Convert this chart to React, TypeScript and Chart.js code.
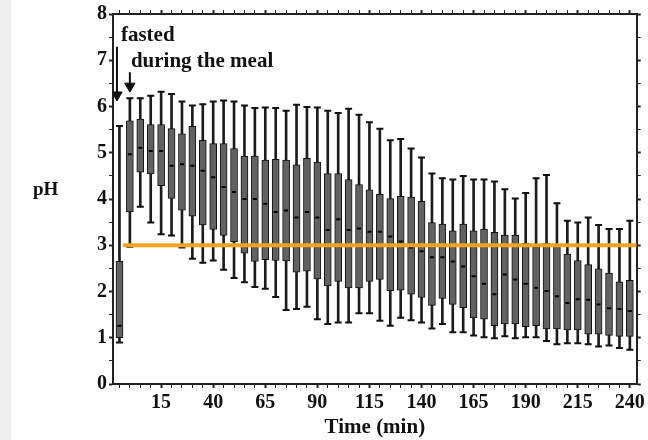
import React, { useEffect, useRef } from 'react';
import { Chart, registerables } from 'chart.js';

Chart.register(...registerables);

// ---- data ----
const times = [-5, 0, 5, 10, 15, 20, 25, 30, 35, 40, 45, 50, 55, 60, 65, 70, 75, 80, 85, 90, 95, 100, 105, 110, 115, 120, 125, 130, 135, 140, 145, 150, 155, 160, 165, 170, 175, 180, 185, 190, 195, 200, 205, 210, 215, 220, 225, 230, 235, 240];

const maxs = [5.58, 6.18, 6.18, 6.23, 6.32, 6.27, 6.11, 6.02, 6.05, 6.11, 6.13, 6.11, 6.02, 5.97, 5.98, 5.97, 5.91, 6.04, 5.99, 5.98, 5.91, 5.86, 5.95, 5.82, 5.66, 5.52, 5.27, 5.3, 5.09, 4.9, 4.55, 4.45, 4.42, 4.5, 4.42, 4.42, 4.38, 4.21, 4.01, 4.13, 4.45, 4.52, 3.91, 3.53, 3.49, 3.6, 3.44, 3.35, 3.35, 3.53];

const q3s = [2.65, 5.69, 5.73, 5.61, 5.61, 5.52, 5.41, 5.57, 5.27, 5.2, 5.2, 5.09, 4.93, 4.93, 4.84, 4.86, 4.84, 4.74, 4.88, 4.8, 4.55, 4.55, 4.42, 4.31, 4.2, 4.1, 4.01, 4.06, 4.04, 3.95, 3.49, 3.46, 3.31, 3.46, 3.31, 3.35, 3.28, 3.22, 3.22, 3.04, 2.97, 3.04, 3.0, 2.81, 2.67, 2.58, 2.49, 2.4, 2.21, 2.24];

const medians = [1.26, 4.97, 5.11, 5.04, 5.04, 4.72, 4.75, 4.72, 4.61, 4.47, 4.26, 4.15, 4.0, 4.0, 3.9, 3.72, 3.75, 3.6, 3.72, 3.6, 3.33, 3.56, 3.33, 3.36, 3.29, 3.29, 3.19, 3.08, 2.95, 2.87, 2.74, 2.74, 2.65, 2.54, 2.33, 2.17, 1.94, 2.37, 2.26, 2.17, 2.08, 2.01, 1.9, 1.75, 1.83, 1.82, 1.72, 1.64, 1.62, 1.58];

const q1s = [1.0, 3.72, 4.58, 4.54, 4.29, 4.01, 3.76, 3.63, 3.44, 3.34, 3.21, 3.08, 2.83, 2.65, 2.69, 2.67, 2.66, 2.42, 2.44, 2.27, 2.12, 2.22, 2.08, 2.08, 2.22, 2.26, 2.02, 2.03, 1.94, 1.87, 1.7, 1.85, 1.72, 1.65, 1.43, 1.4, 1.26, 1.3, 1.3, 1.24, 1.26, 1.19, 1.19, 1.17, 1.17, 1.08, 1.08, 1.05, 1.03, 1.03];

const mins = [0.9, 2.97, 3.83, 3.49, 3.24, 3.21, 2.95, 2.71, 2.62, 2.67, 2.47, 2.29, 2.2, 2.1, 2.06, 1.88, 1.6, 1.62, 1.67, 1.4, 1.3, 1.33, 1.33, 1.53, 1.53, 1.37, 1.26, 1.43, 1.38, 1.33, 1.2, 1.3, 1.12, 1.12, 1.05, 1.01, 0.99, 1.03, 0.99, 1.01, 1.01, 0.93, 0.86, 0.88, 0.88, 0.86, 0.81, 0.83, 0.78, 0.74];

const xLabelTicks = [15, 40, 65, 90, 115, 140, 165, 190, 215, 240];
const yLabelTicks = [0, 1, 2, 3, 4, 5, 6, 7, 8];

const thresholdPH = 3;
const thresholdStart = -3.3;
const thresholdEnd = 243.3;

// annotations: text, time, pH (baseline)
const noteTexts = ['fasted', 'during the meal'];
const noteTimes = [-4.3, 0.5];
const notePH = [7.42, 6.85];

// arrows: time, shaft top, shaft bottom, head centre
const arrowTimes = [-6.2, 0];
const arrowTops = [7.29, 6.74];
const arrowBottoms = [6.3, 6.46];
const arrowHeads = [6.25, 6.44];

const X_MIN = -8.1;
const X_MAX = 243.3;

const SERIF = '"Liberation Serif", "Times New Roman", Times, serif';
const INK = '#111111';

export default function App() {
  const ref = useRef<HTMLCanvasElement>(null);

  useEffect(() => {
    document.body.style.margin = '0';
    const canvas = ref.current;
    if (!canvas) return;

    const minorX: number[] = [];
    for (let v = -5; v <= 240; v += 5) minorX.push(v);
    const minorY: number[] = [];
    for (let v = 0; v <= 8; v += 0.5) minorY.push(v);

    const isMajorX = (v: number) => xLabelTicks.includes(v);
    const isMajorY = (v: number) => yLabelTicks.includes(v);

    const notesPlugin = {
      id: 'notes',
      afterDatasetsDraw(chart: any) {
        const { ctx, scales } = chart;
        const x = scales.x;
        const y = scales.y;
        ctx.save();
        ctx.fillStyle = INK;
        ctx.font = `bold 21px ${SERIF}`;
        ctx.textAlign = 'left';
        ctx.textBaseline = 'alphabetic';
        noteTexts.forEach((t, i) => {
          ctx.fillText(t, x.getPixelForValue(noteTimes[i]), y.getPixelForValue(notePH[i]));
        });
        ctx.font = `bold 19px ${SERIF}`;
        ctx.fillText('pH', chart.chartArea.left - 80, y.getPixelForValue(4.09));
        ctx.restore();
      },
    };

    const font = { family: SERIF, size: 20, weight: 'bold' as const };

    const xScaleBase = {
      type: 'linear' as const,
      min: X_MIN,
      max: X_MAX,
      offset: false,
      afterBuildTicks: (s: any) => {
        s.ticks = minorX.map((v) => ({ value: v }));
      },
      grid: {
        offset: false,
        drawOnChartArea: false,
        drawTicks: true,
        tickLength: 4,
        tickColor: '#222',
        tickWidth: (c: any) => (c.tick && isMajorX(c.tick.value) ? 2 : 1),
      },
      border: { display: true, color: '#222', width: 2 },
    };

    const yScaleBase = {
      type: 'linear' as const,
      min: 0,
      max: 8,
      afterBuildTicks: (s: any) => {
        s.ticks = minorY.map((v) => ({ value: v }));
      },
      grid: {
        drawOnChartArea: false,
        drawTicks: true,
        tickLength: 4,
        tickColor: '#222',
        tickWidth: (c: any) => (c.tick && isMajorY(c.tick.value) ? 2 : 1),
      },
      border: { display: true, color: '#222', width: 2 },
    };

    const chart = new Chart(canvas, {
      type: 'bar',
      data: {
        datasets: [
          {
            type: 'line',
            label: 'pH 3',
            data: [
              { x: thresholdStart, y: thresholdPH },
              { x: thresholdEnd, y: thresholdPH },
            ],
            borderColor: '#f6a31c',
            borderWidth: 4,
            pointRadius: 0,
            order: 0,
          },
          {
            type: 'bar',
            label: 'range',
            data: times.map((t, i) => ({ x: t, y: [mins[i], maxs[i]] })) as any,
            backgroundColor: '#1c1c1c',
            barThickness: 2,
            grouped: false,
            order: 6,
          },
          {
            type: 'bar',
            label: 'IQR',
            data: times.map((t, i) => ({ x: t, y: [q1s[i], q3s[i]] })) as any,
            backgroundColor: '#626262',
            borderColor: '#111',
            borderWidth: 1,
            borderSkipped: false,
            barThickness: 7,
            grouped: false,
            order: 5,
          },
          {
            type: 'line',
            label: 'max caps',
            data: times.map((t, i) => ({ x: t, y: maxs[i] })),
            showLine: false,
            pointStyle: 'line',
            pointRadius: 3.5,
            borderColor: '#111',
            pointBorderWidth: 2,
            order: 4,
          },
          {
            type: 'line',
            label: 'min caps',
            data: times.map((t, i) => ({ x: t, y: mins[i] })),
            showLine: false,
            pointStyle: 'line',
            pointRadius: 3.5,
            borderColor: '#111',
            pointBorderWidth: 2,
            order: 4,
          },
          {
            type: 'line',
            label: 'median',
            data: times.map((t, i) => ({ x: t, y: medians[i] })),
            showLine: false,
            pointStyle: 'line',
            pointRadius: 2,
            borderColor: '#000',
            pointBorderWidth: 2,
            order: 3,
          },
          ...arrowTimes.map((t, i) => ({
            type: 'line' as const,
            label: 'arrow shaft ' + i,
            data: [
              { x: t, y: arrowTops[i] },
              { x: t, y: arrowBottoms[i] },
            ],
            borderColor: '#111',
            borderWidth: 2,
            pointRadius: 0,
            order: 2,
          })),
          {
            type: 'line',
            label: 'arrow heads',
            data: arrowTimes.map((t, i) => ({ x: t, y: arrowHeads[i] })),
            showLine: false,
            pointStyle: 'triangle',
            rotation: 180,
            pointRadius: 6,
            backgroundColor: '#111',
            borderColor: '#111',
            pointBorderWidth: 1,
            order: 2,
          },
        ] as any,
      },
      options: {
        responsive: false,
        animation: false,
        events: [],
        layout: { padding: { left: 0, right: 7, top: 6, bottom: 0 } },
        plugins: {
          legend: { display: false },
          tooltip: { enabled: false },
        },
        scales: {
          x: {
            ...xScaleBase,
            position: 'bottom',
            afterFit: (s: any) => {
              s.height = 56;
            },
            ticks: {
              autoSkip: false,
              maxRotation: 0,
              minRotation: 0,
              padding: 3,
              color: INK,
              font,
              callback: (v: any) => (isMajorX(Number(v)) ? String(v) : ''),
            },
            title: {
              display: true,
              text: 'Time (min)',
              color: INK,
              font: { family: SERIF, size: 21, weight: 'bold' },
              padding: { top: 0, bottom: 0 },
            },
          },
          x2: {
            ...xScaleBase,
            position: 'top',
            afterFit: (s: any) => {
              s.height = 4;
            },
            ticks: { display: false },
          },
          y: {
            ...yScaleBase,
            position: 'left',
            afterFit: (s: any) => {
              s.width = 113;
            },
            ticks: {
              autoSkip: false,
              padding: 2,
              color: INK,
              font,
              callback: (v: any) => (isMajorY(Number(v)) ? String(v) : ''),
            },
          },
          y2: {
            ...yScaleBase,
            position: 'right',
            afterFit: (s: any) => {
              s.width = 4;
            },
            ticks: { display: false },
          },
        } as any,
      },
      plugins: [notesPlugin],
    });

    return () => chart.destroy();
  }, []);

  return (
    <div style={{ position: 'fixed', left: 0, top: 0, width: 648, height: 440, background: '#ffffff', overflow: 'hidden' }}>
      <div style={{ position: 'absolute', left: 0, top: 0, width: 11, height: 440, background: '#f0f0f0' }} />
      <canvas ref={ref} width={648} height={440} style={{ position: 'absolute', left: 0, top: 0, width: 648, height: 440 }} />
    </div>
  );
}
